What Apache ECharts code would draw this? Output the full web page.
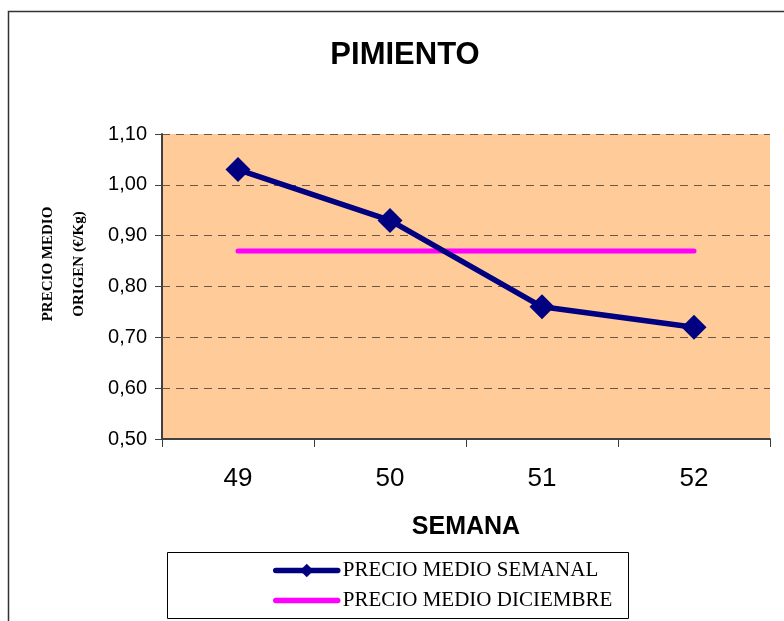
<!DOCTYPE html>
<html><head><meta charset="utf-8">
<script src="https://cdn.jsdelivr.net/npm/echarts@6/dist/echarts.min.js"></script>
<style>html,body{margin:0;padding:0;background:#fff}#c{width:784px;height:621px}</style>
</head><body><div id="c"></div>
<script>
const weeks = ['49','50','51','52'];
const weeklyPrice = [1.03, 0.93, 0.76, 0.72];
const decemberPrice = [0.87, 0.87, 0.87, 0.87];
const seriesNames = ['PRECIO MEDIO SEMANAL','PRECIO MEDIO DICIEMBRE'];
const yAxisTitle = 'PRECIO MEDIO\nORIGEN (€/Kg)';

const chart = echarts.init(document.getElementById('c'), null, {renderer:'canvas'});
chart.setOption({
  backgroundColor:'#fff',
  animation:false,
  title:{text:'PIMIENTO', left:400, textAlign:'center', top:35,
    textStyle:{fontFamily:'Liberation Sans, Arial', fontWeight:'bold', fontSize:31, color:'#000'}},
  graphic:[
    {type:'rect', shape:{x:8.5,y:11.5,width:800,height:640}, style:{fill:null, stroke:'#333', lineWidth:1.5}, z:-1},
    {type:'rect', shape:{x:167.5,y:552.5,width:461,height:66}, style:{fill:'#fff', stroke:'#000', lineWidth:1}, z:0},
    {type:'text', x:64, y:264, rotation:Math.PI/2,
      style:{text:yAxisTitle, fontFamily:'Liberation Serif, Times New Roman', fontWeight:'bold', fontSize:15,
        lineHeight:31, fill:'#000', align:'center', verticalAlign:'middle'}}
  ],
  grid:{left:162, right:14, top:134, bottom:182, show:true, backgroundColor:'#FFCC99', borderWidth:0},
  legend:{orient:'vertical', left:268, top:554, itemGap:7, itemWidth:62, itemHeight:17, itemSymbolKeepAspect:true, z:5,
    textStyle:{fontFamily:'Liberation Serif, Times New Roman', fontSize:21, color:'#000', lineHeight:23},
    data:[
      {name:seriesNames[0], lineStyle:{width:5.5, cap:'round'}},
      {name:seriesNames[1], lineStyle:{width:5.5, cap:'round'}, itemStyle:{color:'rgba(0,0,0,0)', borderWidth:0}}
    ]},
  xAxis:{type:'category', data:weeks, boundaryGap:true,
    name:'SEMANA', nameLocation:'middle', nameGap:76,
    nameTextStyle:{fontFamily:'Liberation Sans, Arial', fontWeight:'bold', fontSize:25, color:'#000'},
    axisLine:{lineStyle:{color:'#404040', width:2}},
    axisTick:{show:true, length:8, alignWithLabel:false, lineStyle:{color:'#404040', width:1}},
    axisLabel:{fontFamily:'Liberation Sans, Arial', fontSize:26, color:'#000', margin:27},
    splitLine:{show:false}},
  yAxis:{type:'value', min:0.5, max:1.1, interval:0.1,
    axisLine:{show:true, lineStyle:{color:'#404040', width:2}},
    axisTick:{show:true, length:7, lineStyle:{color:'#404040', width:1}},
    axisLabel:{fontFamily:'Liberation Sans, Arial', fontSize:20, color:'#000', margin:15,
      formatter:v=>v.toFixed(2).replace('.',',')},
    splitLine:{show:true, lineStyle:{color:'#6b5a48', type:[8,6], width:1.2}}},
  series:[
    {name:seriesNames[0], type:'line', data:weeklyPrice, symbol:'diamond', symbolSize:25,
      lineStyle:{color:'#000080', width:5.5}, itemStyle:{color:'#000080'}, z:3},
    {name:seriesNames[1], type:'line', data:decemberPrice, symbol:'none', showSymbol:false,
      lineStyle:{color:'#FF00FF', width:5, cap:'round'}, itemStyle:{color:'#FF00FF'}, z:2}
  ]
});
</script></body></html>
